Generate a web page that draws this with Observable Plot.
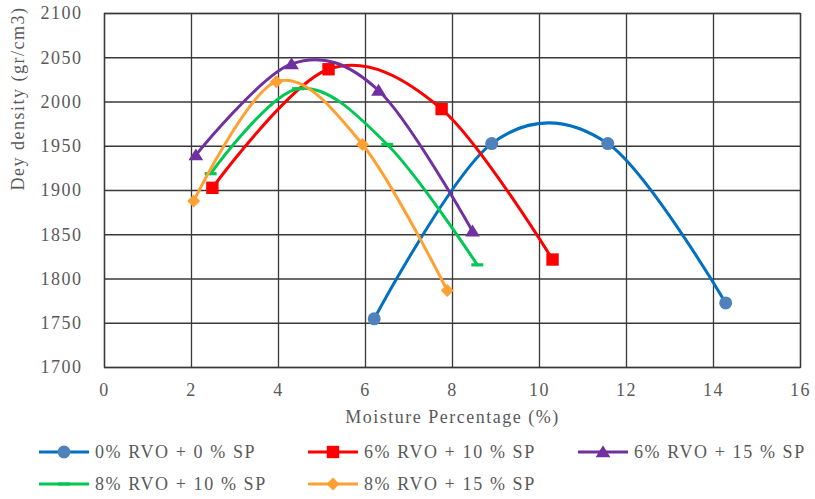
<!DOCTYPE html>
<html>
<head>
<meta charset="utf-8">
<script src="https://cdn.jsdelivr.net/npm/d3@7"></script>
<script src="https://cdn.jsdelivr.net/npm/@observablehq/plot@0.6"></script>
<style>
  body { margin: 0; background: #fff; }
  #wrap { position: relative; width: 815px; height: 499px; }
  .leg { position: absolute; display: flex; align-items: center; font-family: "Liberation Serif", serif; font-size: 18px; letter-spacing: 1.6px; color: #595959; white-space: nowrap; }
  .leg svg { display: block; margin-right: 5px; }
</style>
</head>
<body>
<div id="wrap"></div>
<script>
const xTicks = [0, 2, 4, 6, 8, 10, 12, 14, 16];
const yTicks = [1700, 1750, 1800, 1850, 1900, 1950, 2000, 2050, 2100];

const names = ["0% RVO + 0 % SP", "6% RVO + 10 % SP", "6% RVO + 15 % SP", "8% RVO + 10 % SP", "8% RVO + 15 % SP"];
const lineColors = ["#0070c0", "#ff0000", "#7030a0", "#00c853", "#ffa033"];
const markColors = ["#4f81bd", "#ff0000", "#7030a0", "#00c853", "#ffa033"];

const s1x = [6.2, 8.9, 11.57, 14.28], s1y = [1755, 1953, 1953, 1773];
const s2x = [2.48, 5.15, 7.75, 10.3], s2y = [1903, 2037, 1992, 1822];
const s3x = [2.1, 4.3, 6.3, 8.46], s3y = [1940, 2043, 2013, 1854];
const s4x = [2.44, 4.45, 6.5, 8.57], s4y = [1919, 2015, 1952, 1816];
const s5x = [2.05, 3.95, 5.93, 7.88], s5y = [1888, 2023, 1952, 1787];

const xs = [s1x, s2x, s3x, s4x, s5x];
const ys = [s1y, s2y, s3y, s4y, s5y];

// custom marker shapes (size = r*r*PI passed by Plot / d3.symbol)
const dash = { draw(ctx, size) { const r = Math.sqrt(size / Math.PI); ctx.rect(-r, -1.6, 2 * r, 3.2); } };
const diamond = { draw(ctx, size) { const r = Math.sqrt(size / Math.PI); ctx.moveTo(0, -r); ctx.lineTo(r, 0); ctx.lineTo(0, r); ctx.lineTo(-r, 0); ctx.closePath(); } };
const square = { draw(ctx, size) { const r = Math.sqrt(size / Math.PI); ctx.rect(-r, -r, 2 * r, 2 * r); } };
const triangle = { draw(ctx, size) { const r = Math.sqrt(size / Math.PI); ctx.moveTo(0, -r * 0.95); ctx.lineTo(r * 1.05, r * 0.75); ctx.lineTo(-r * 1.05, r * 0.75); ctx.closePath(); } };
const symbols = [d3.symbolCircle, square, triangle, dash, diamond];
const radii = [6.5, 6.2, 7, 6, 6.5];

const data = [];
xs.forEach((arr, i) => arr.forEach((x, j) => data.push({ s: i, x, y: ys[i][j] })));

const marks = [
  Plot.gridX(xTicks, { stroke: "#383838", strokeOpacity: 1, strokeWidth: 1.3 }),
  Plot.gridY(yTicks, { stroke: "#383838", strokeOpacity: 1, strokeWidth: 1.3 }),
  Plot.frame({ stroke: "#383838", strokeWidth: 1.3 }),
  Plot.axisX({ ticks: xTicks, tickSize: 0, tickPadding: 16, label: null, tickFormat: d => String(d) }),
  Plot.axisY({ ticks: yTicks, tickSize: 0, tickPadding: 22, label: null, tickFormat: d => String(d) }),
  Plot.text(["Dey density (gr/cm3)"], { text: d => d, frameAnchor: "left", dx: -86, rotate: -90, fill: "#595959" }),
  Plot.text(["Moisture Percentage (%)"], { text: d => d, frameAnchor: "bottom", dy: 55, fill: "#595959" })
];
for (let i = 0; i < names.length; i++) {
  const sd = data.filter(d => d.s === i);
  marks.push(Plot.line(sd, { x: "x", y: "y", curve: "cardinal", stroke: lineColors[i], strokeWidth: 3 }));
  marks.push(Plot.dot(sd, { x: "x", y: "y", symbol: () => symbols[i], r: radii[i], fill: markColors[i], stroke: "none" }));
}

const chart = Plot.plot({
  width: 815,
  height: 438,
  marginLeft: 104,
  marginRight: 15,
  marginTop: 13,
  marginBottom: 71,
  x: { domain: [0, 16] },
  y: { domain: [1700, 2100] },
  style: { fontFamily: "'Liberation Serif', serif", fontSize: "18px", color: "#595959", letterSpacing: "1.5px", background: "#fff" },
  marks
});
const wrap = document.getElementById("wrap");
wrap.appendChild(chart);

const legPos = [[38, 441], [307, 441], [577, 441], [38, 473], [307, 473]];
names.forEach((n, i) => {
  const div = document.createElement("div");
  div.className = "leg";
  div.style.left = legPos[i][0] + "px";
  div.style.top = legPos[i][1] + "px";
  const svg = d3.create("svg").attr("width", 52).attr("height", 22);
  svg.append("line").attr("x1", 1).attr("x2", 51).attr("y1", 11).attr("y2", 11).attr("stroke", lineColors[i]).attr("stroke-width", 3);
  const r = radii[i];
  svg.append("path").attr("transform", "translate(26,11)")
    .attr("d", d3.symbol(symbols[i], r * r * Math.PI)()).attr("fill", markColors[i]);
  div.appendChild(svg.node());
  const sp = document.createElement("span");
  sp.textContent = n;
  div.appendChild(sp);
  wrap.appendChild(div);
});
</script>
</body>
</html>
